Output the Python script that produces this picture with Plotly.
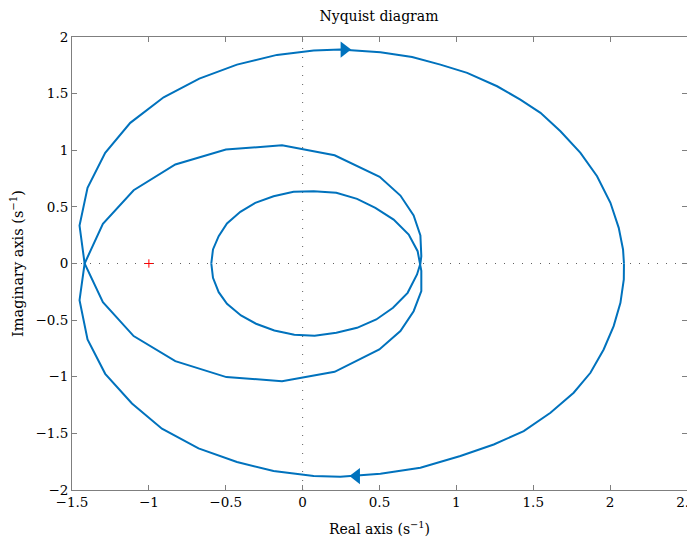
import plotly.graph_objects as go

# Nyquist curve, positive frequencies
re_pos = [2.09, 2.089, 2.067, 2.023, 1.958, 1.872, 1.763, 1.612, 1.438, 1.243, 1.026, 0.766, 0.506, 0.245,
          0.072, -0.189, -0.427, -0.677, -0.915, -1.110, -1.284, -1.399, -1.451, -1.418, -1.299, -1.099,
          -0.828, -0.499, -0.134, 0.208, 0.501, 0.636, 0.722, 0.766, 0.772, 0.766, 0.744, 0.683, 0.588,
          0.479, 0.354, 0.219, 0.078, -0.054, -0.184, -0.303, -0.401, -0.492, -0.546, -0.583, -0.594]
im_pos = [0.0, -0.141, -0.347, -0.553, -0.759, -0.965, -1.141, -1.318, -1.480, -1.598, -1.700, -1.803,
          -1.856, -1.883, -1.877, -1.833, -1.753, -1.633, -1.459, -1.236, -0.974, -0.671, -0.324, 0.0,
          0.350, 0.647, 0.874, 1.006, 1.044, 0.956, 0.765, 0.600, 0.424, 0.247, 0.065, 0.0, -0.097,
          -0.259, -0.391, -0.494, -0.568, -0.612, -0.638, -0.630, -0.591, -0.532, -0.459, -0.356,
          -0.253, -0.126, 0.0]

# Nyquist curve, negative frequencies
re_neg = [-0.594, -0.583, -0.546, -0.492, -0.405, -0.308, -0.189, -0.059, 0.072, 0.219, 0.354, 0.473,
          0.592, 0.690, 0.748, 0.766, 0.772, 0.772, 0.722, 0.636, 0.499, 0.208, -0.134, -0.496, -0.828,
          -1.099, -1.299, -1.418, -1.451, -1.399, -1.284, -1.121, -0.904, -0.672, -0.427, -0.167, 0.072,
          0.245, 0.506, 0.712, 0.896, 1.070, 1.265, 1.416, 1.547, 1.677, 1.807, 1.915, 2.002, 2.056,
          2.084, 2.090]
im_neg = [0.0, 0.124, 0.241, 0.353, 0.456, 0.536, 0.594, 0.633, 0.638, 0.624, 0.571, 0.491, 0.388,
          0.256, 0.109, 0.0, -0.065, -0.244, -0.421, -0.597, -0.759, -0.956, -1.039, -1.003, -0.862,
          -0.641, -0.341, 0.0, 0.335, 0.668, 0.977, 1.242, 1.468, 1.633, 1.756, 1.842, 1.880, 1.889,
          1.865, 1.824, 1.756, 1.683, 1.565, 1.447, 1.330, 1.168, 0.977, 0.771, 0.536, 0.315, 0.124, 0.0]

# direction arrows
arrow_re = [0.27, 0.35]
arrow_im = [1.889, -1.877]
arrow_symbols = ["triangle-right", "triangle-left"]

# critical point
crit_re = [-1]
crit_im = [0]

x_ticks = [-1.5, -1, -0.5, 0, 0.5, 1, 1.5, 2, 2.5]
y_ticks = [-2, -1.5, -1, -0.5, 0, 0.5, 1, 1.5, 2]


def fmt(v):
    s = ("%g" % abs(v))
    return ("\u2212" + s) if v < 0 else s


BLUE = "#0072BD"
FONT = "DejaVu Serif"
AX = "#7f7f7f"

fig = go.Figure()
fig.add_trace(go.Scatter(x=re_pos, y=im_pos, mode="lines", line=dict(color=BLUE, width=2),
                         hoverinfo="skip", showlegend=False))
fig.add_trace(go.Scatter(x=re_neg, y=im_neg, mode="lines", line=dict(color=BLUE, width=2),
                         hoverinfo="skip", showlegend=False))
fig.add_trace(go.Scatter(x=arrow_re, y=arrow_im, mode="markers",
                         marker=dict(symbol=arrow_symbols, size=14, color=BLUE, line=dict(width=0)),
                         showlegend=False, hoverinfo="skip"))
fig.add_trace(go.Scatter(x=crit_re, y=crit_im, mode="markers",
                         marker=dict(symbol="cross-thin", size=6, line=dict(color="#ff0000", width=1)),
                         showlegend=False, hoverinfo="skip"))

# dotted zero lines
fig.add_shape(type="line", xref="x", yref="paper", x0=0, x1=0, y0=0, y1=1,
              line=dict(color="#606060", width=1, dash="1px,8px"), layer="below")
fig.add_shape(type="line", xref="paper", yref="y", x0=0, x1=1, y0=0, y1=0,
              line=dict(color="#606060", width=1, dash="1px,8px"), layer="below")

axis_common = dict(showgrid=False, zeroline=False, showline=True, linecolor=AX, linewidth=1,
                   mirror="ticks", ticks="inside", ticklen=5, tickcolor=AX, tickwidth=1,
                   automargin=False, ticklabeloverflow="allow",
                   tickfont=dict(family=FONT, size=13.5, color="#000"))

fig.update_layout(
    width=695, height=545,
    margin=dict(l=64, r=16, t=29, b=63),
    paper_bgcolor="white", plot_bgcolor="white",
    title=dict(text="Nyquist diagram", x=0.5338, xanchor="center", y=0.9853, yanchor="middle",
               font=dict(family=FONT, size=14, color="#000")),
    xaxis=dict(range=[-1.5, 2.5], tickvals=x_ticks, ticktext=[fmt(v) for v in x_ticks],
               title=dict(text="Real axis (s<sup>\u22121</sup>)", font=dict(family=FONT, size=14, color="#000"), standoff=14),
               **axis_common),
    yaxis=dict(range=[-2, 2], tickvals=y_ticks, ticktext=[fmt(v) for v in y_ticks],
               title=dict(text="Imaginary axis (s<sup>\u22121</sup>)", font=dict(family=FONT, size=14.5, color="#000"), standoff=12),
               **axis_common),
)

fig.write_html("out.html")
